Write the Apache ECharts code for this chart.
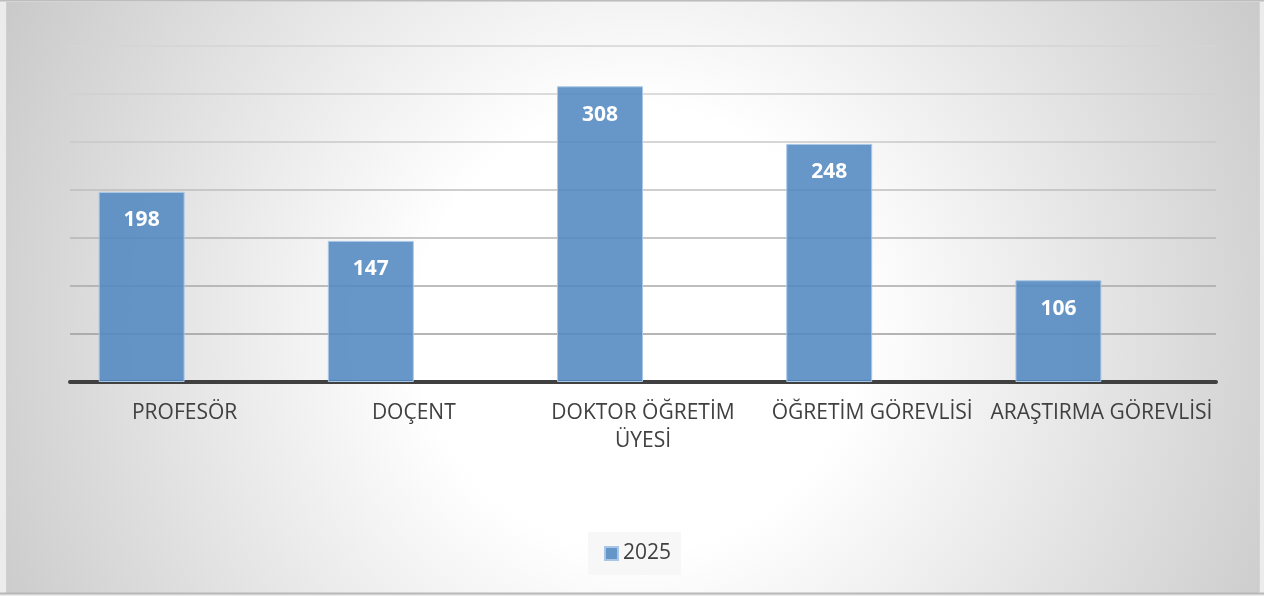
<!DOCTYPE html>
<html>
<head>
<meta charset="utf-8">
<script src="https://cdn.jsdelivr.net/npm/echarts@6/dist/echarts.min.js"></script>
<style>
html,body{margin:0;padding:0;background:#ececec;}
#c{width:1264px;height:596px;}
</style>
</head>
<body>
<div id="c"></div>
<script>
const categories = ['PROFESÖR', 'DOÇENT', 'DOKTOR ÖĞRETİM\nÜYESİ', 'ÖĞRETİM GÖREVLİSİ', 'ARAŞTIRMA GÖREVLİSİ'];
const seriesName = '2025';
const values2025 = [198, 147, 308, 248, 106];
const emptySeries = [null, null, null, null, null];

const chart = echarts.init(document.getElementById('c'), null, {renderer: 'canvas'});
const FONT = '"Open Sans", "Noto Sans", sans-serif';

chart.setOption({
  animation: false,
  backgroundColor: '#ececec',
  graphic: [
    {
      type: 'rect', z: -100, silent: true,
      shape: {x: 6, y: 2, width: 1253, height: 591},
      style: {
        fill: new echarts.graphic.RadialGradient(0.505, 0.555, 1.29, [
          {offset: 0, color: '#ffffff'},
          {offset: 0.29, color: '#ffffff'},
          {offset: 1, color: '#c4c4c4'}
        ])
      }
    },
    {type: 'line', z: -99, silent: true, shape: {x1: 0, y1: 0.5, x2: 1264, y2: 0.5}, style: {stroke: '#bdbdbd', lineWidth: 2}},
    {type: 'line', z: -99, silent: true, shape: {x1: 6.5, y1: 2, x2: 6.5, y2: 593}, style: {stroke: '#d0d0d0', lineWidth: 1}},
    {type: 'line', z: -99, silent: true, shape: {x1: 0, y1: 593.5, x2: 1264, y2: 593.5}, style: {stroke: '#b8b8b8', lineWidth: 2}},
    {type: 'line', z: -99, silent: true, shape: {x1: 1259.5, y1: 2, x2: 1259.5, y2: 593}, style: {stroke: '#d4d4d4', lineWidth: 1}}
  ],
  grid: {left: 70, right: 48, top: 46, bottom: 214, containLabel: false},
  legend: {
    data: [seriesName],
    left: 588, top: 532,
    padding: [11, 10, 11, 16],
    backgroundColor: '#f7f7f7',
    icon: 'rect',
    itemWidth: 13, itemHeight: 13, itemGap: 5,
    textStyle: {fontFamily: FONT, fontSize: 21, color: '#404040', padding: [0, 0, 0, 0]}
  },
  xAxis: {
    type: 'category',
    data: categories,
    axisLine: {show: true, lineStyle: {color: '#404040', width: 4}},
    axisTick: {show: false},
    axisLabel: {interval: 0, margin: 17, fontFamily: FONT, fontSize: 21, color: '#404040', lineHeight: 28}
  },
  yAxis: {
    type: 'value',
    min: 0, max: 350, interval: 50,
    axisLine: {show: false},
    axisTick: {show: false},
    axisLabel: {show: false},
    splitLine: {show: true, lineStyle: {width: 1.5, color: ['#404040', '#9c9c9c', '#a8a8a8', '#b4b4b4', '#bebebe', '#c8c8c8', '#d0d0d0', '#d4d4d4']}}
  },
  series: [
    {
      name: seriesName,
      type: 'bar',
      data: values2025,
      barGap: '0%',
      barCategoryGap: '25%',
      itemStyle: {color: 'rgba(82,137,192,0.88)', borderColor: '#a9c6e6', borderWidth: 1},
      label: {
        show: true, position: 'insideTop', distance: 18,
        fontFamily: FONT, fontSize: 21, fontWeight: 'bold', color: '#ffffff'
      }
    },
    {
      name: 'empty',
      type: 'bar',
      data: emptySeries,
      barGap: '0%',
      barCategoryGap: '25%'
    }
  ]
});
</script>
</body>
</html>
